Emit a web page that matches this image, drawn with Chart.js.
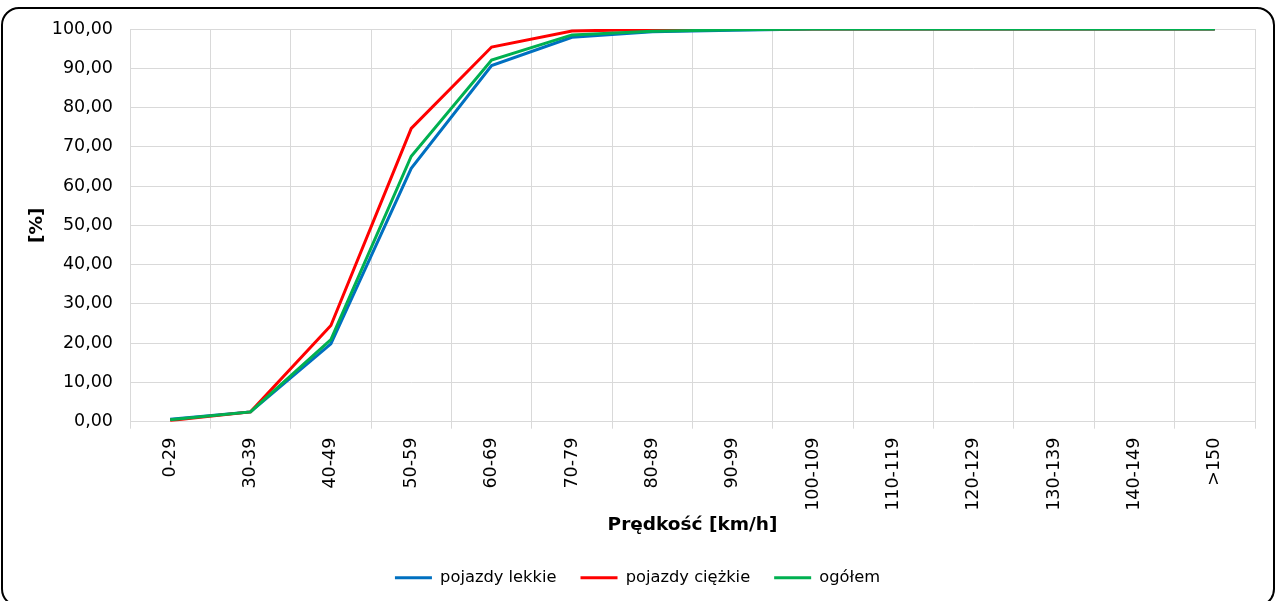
<!DOCTYPE html>
<html><head><meta charset="utf-8">
<script src="https://cdn.jsdelivr.net/npm/chart.js@4/dist/chart.umd.min.js"></script>
<style>
html,body{margin:0;padding:0;background:#fff;overflow:hidden;}
#box{position:absolute;left:1px;top:7px;width:1274px;height:600px;border:2px solid #000;border-radius:18px;box-sizing:border-box;}
#wrap{position:absolute;left:0;top:0;width:1280px;height:601px;}
</style></head><body>
<div id="box"></div>
<div id="wrap"><canvas id="c" width="1280" height="601"></canvas></div>
<script>
const categories = ["0-29","30-39","40-49","50-59","60-69","70-79","80-89","90-99","100-109","110-119","120-129","130-139","140-149",">150"];
const lekkie = [0.6, 2.5, 19.8, 64.5, 90.7, 97.9, 99.3, 99.7, 100, 100, 100, 100, 100, 100];
const ciezkie = [0.3, 2.5, 24.5, 74.7, 95.4, 99.5, 99.9, 100, 100, 100, 100, 100, 100, 100];
const ogolem = [0.5, 2.5, 20.9, 67.6, 92.1, 98.5, 99.4, 99.8, 100, 100, 100, 100, 100, 100];
const yTicks = [0,10,20,30,40,50,60,70,80,90,100];

const F = "'DejaVu Sans', Verdana, sans-serif";
new Chart(document.getElementById('c'), {
  type: 'line',
  data: {
    labels: categories,
    datasets: [
      {label:'pojazdy lekkie', data: lekkie, borderColor:'#0070c0', backgroundColor:'#0070c0', borderWidth:3, pointRadius:0, tension:0, order:3},
      {label:'pojazdy ciężkie', data: ciezkie, borderColor:'#ff0000', backgroundColor:'#ff0000', borderWidth:3, pointRadius:0, tension:0, order:2},
      {label:'ogółem', data: ogolem, borderColor:'#00b050', backgroundColor:'#00b050', borderWidth:3, pointRadius:0, tension:0, order:1}
    ]
  },
  options: {
    responsive:false, animation:false,
    layout:{padding:{left:20, right:25, top:29, bottom:5}},
    plugins:{
      legend:{position:'bottom',
        labels:{sort:(a,b)=>a.datasetIndex-b.datasetIndex, usePointStyle:true, pointStyle:'line', pointStyleWidth:37, boxWidth:37, boxHeight:16, padding:24, color:'#000', font:{family:F, size:16.3}}},
      tooltip:{enabled:false}
    },
    scales:{
      x:{
        offset:true,
        afterFit(s){ s.height = 124; },
        grid:{color:'#d9d9d9', lineWidth:1, offset:true, tickLength:7, drawTicks:true},
        border:{color:'#d9d9d9'},
        ticks:{color:'#000', font:{family:F, size:17.5}, maxRotation:90, minRotation:90, autoSkip:false, padding:9},
        title:{display:true, text:'Prędkość [km/h]', color:'#000', font:{family:F, size:18.5, weight:'bold'}, padding:{top:10, bottom:9}}
      },
      y:{
        min:0, max:100,
        afterBuildTicks(s){ s.ticks = yTicks.map(v=>({value:v})); },
        afterFit(s){ s.width = 110; },
        grid:{color:'#d9d9d9', drawTicks:false},
        border:{display:false},
        ticks:{color:'#000', font:{family:F, size:17.5}, padding:17, callback:v=>v.toFixed(2).replace('.',',')},
        title:{display:true, text:'[%]', color:'#000', font:{family:F, size:18.5, weight:'bold'}, padding:{top:6, bottom:10}}
      }
    }
  }
});
</script>
</body></html>
